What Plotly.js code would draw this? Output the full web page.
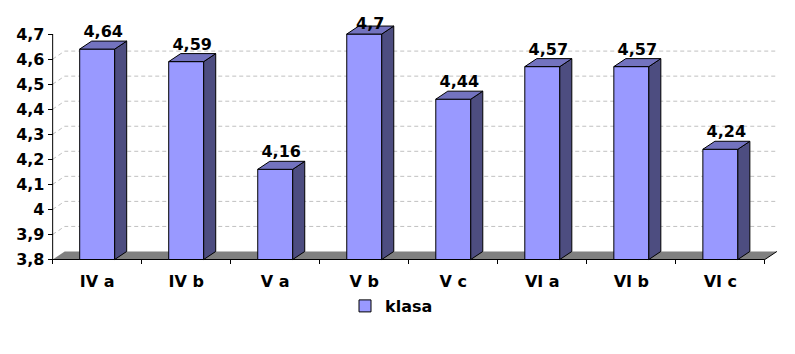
<!DOCTYPE html>
<html><head><meta charset="utf-8">
<script src="https://cdn.plot.ly/plotly-3.0.1.min.js"></script>
<style>html,body{margin:0;padding:0;background:#fff}</style>
</head><body>
<div id="chart" style="width:795px;height:354px"></div>
<script>
// ---- data ----
const categories = ["IV a","IV b","V a","V b","V c","VI a","VI b","VI c"];
const values = [4.64, 4.59, 4.16, 4.7, 4.44, 4.57, 4.57, 4.24];
const valueLabels = ["4,64","4,59","4,16","4,7","4,44","4,57","4,57","4,24"];
const yTickVals = [3.8, 3.9, 4.0, 4.1, 4.2, 4.3, 4.4, 4.5, 4.6, 4.7];
const yTickText = ["3,8","3,9","4","4,1","4,2","4,3","4,4","4,5","4,6","4,7"];
const seriesName = "klasa";

// ---- geometry / style ----
const BASE = 3.8, TOP = 4.7;
const X0 = -0.53, X1 = 7.67, Y0 = 3.79, Y1 = 4.828;
const DX = 0.135, DY = 0.032;   // 3-D depth offset
const W = 0.393;                 // bar width
const LABEL_CAP = TOP + 0.004;   // labels are kept inside the chart area
const FONT = {family: "DejaVu Sans", size: 16, color: "#000", weight: "bold"};
const FRONT = "#9999FF", TOPC = "#7373BF", SIDE = "#4D4D80", FLOOR = "#808080";

const xs = categories.map((c, i) => i);
const nC = categories.length;
const xL = -0.5, xR = nC - 0.5;

// side & top faces as polygons
const sideX = [], sideY = [], topX = [], topY = [];
values.forEach((v, i) => {
  const r = i + W / 2, l = i - W / 2;
  sideX.push(r, r + DX, r + DX, r, r, null);
  sideY.push(BASE, BASE + DY, v + DY, v, BASE, null);
  topX.push(l, l + DX, r + DX, r, l, null);
  topY.push(v, v + DY, v + DY, v, v, null);
});

// shapes: floor, back-wall gridlines, axis lines
const shapes = [];
shapes.push({type: "path", xref: "x", yref: "y", layer: "below",
  path: `M${xL},${BASE} L${xL + DX},${BASE + DY} L${xR + DX},${BASE + DY} L${xR},${BASE} Z`,
  fillcolor: FLOOR, line: {width: 0}});
yTickVals.slice(1, -1).forEach(v => {
  shapes.push({type: "path", xref: "x", yref: "y", layer: "below",
    path: `M${xL},${v} L${xL + DX},${v + DY} L${xR + DX},${v + DY}`,
    line: {color: "#C0C0C0", width: 1, dash: "4px,3px"}});
});
shapes.push({type: "path", xref: "x", yref: "y", layer: "below",
  path: `M${xL},${TOP} L${xL},${BASE} L${xR},${BASE} L${xR + DX},${BASE + DY}`,
  line: {color: "#000", width: 1}});

const traces = [
  {type: "bar", x: xs, y: values.map(v => v - BASE), base: BASE, width: W,
   name: seriesName, marker: {color: FRONT, line: {color: "#000", width: 1}},
   hoverinfo: "skip", showlegend: true},
  {type: "scatter", x: sideX, y: sideY, mode: "lines", fill: "toself",
   fillcolor: SIDE, line: {color: "#000", width: 1}, showlegend: false, hoverinfo: "skip"},
  {type: "scatter", x: topX, y: topY, mode: "lines", fill: "toself",
   fillcolor: TOPC, line: {color: "#000", width: 1}, showlegend: false, hoverinfo: "skip"},
  {type: "scatter", x: xs.map(i => i + DX / 2), y: values.map(v => Math.min(v + DY, LABEL_CAP)),
   mode: "text", text: valueLabels, textposition: "top center",
   textfont: FONT, cliponaxis: false, showlegend: false, hoverinfo: "skip"}
];

const layout = {
  width: 795, height: 354,
  margin: {l: 50.33, r: 14.87, t: 1.9, b: 91.6, pad: 0},
  paper_bgcolor: "#fff", plot_bgcolor: "rgba(0,0,0,0)",
  showlegend: true,
  xaxis: {range: [X0, X1], tickvals: xs, ticktext: categories, ticks: "",
    showline: false, showgrid: false, zeroline: false, tickfont: FONT,
    anchor: "free", position: (BASE - Y0) / (Y1 - Y0),
    ticklabelstandoff: 11,
    minor: {tickmode: "linear", tick0: -0.5, dtick: 1, ticks: "outside",
      ticklen: 4, tickcolor: "#000", tickwidth: 1, showgrid: false},
    automargin: false, fixedrange: true},
  yaxis: {range: [Y0, Y1], tickvals: yTickVals, ticktext: yTickText,
    ticks: "outside", ticklen: 5, tickcolor: "#000", tickwidth: 1,
    showline: false, showgrid: false, zeroline: false, tickfont: FONT,
    anchor: "free", position: (xL - X0) / (X1 - X0),
    automargin: false, fixedrange: true},
  legend: {orientation: "h", xref: "container", yref: "container",
    x: 345 / 795, xanchor: "left", y: 1 - 306 / 354, yanchor: "middle",
    font: FONT, bgcolor: "rgba(0,0,0,0)", itemwidth: 30},
  shapes: shapes
};

Plotly.newPlot("chart", traces, layout, {displayModeBar: false, staticPlot: true});
</script>
</body></html>
